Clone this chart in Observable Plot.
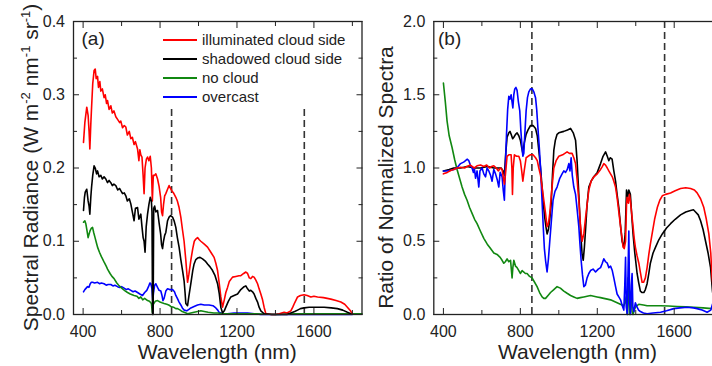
<!DOCTYPE html>
<html><head><meta charset="utf-8">
<script src="https://cdn.jsdelivr.net/npm/d3@7"></script>
<script src="https://cdn.jsdelivr.net/npm/@observablehq/plot@0.6"></script>
<style>
html,body{margin:0;padding:0;background:#fff;overflow:hidden;}
#wrap{position:relative;width:712px;height:366px;overflow:hidden;background:#fff;}
#wrap > svg{position:absolute;top:0;}
</style></head><body><div id="wrap"></div>
<script>
// ---------- tick labels / domains ----------
const xDomain = [350, 1850];
const xMajor = [400, 800, 1200, 1600];
const xMinor = [600, 1000, 1400, 1800];
const yDomainA = [0, 0.4];
const yMajorA = [0, 0.1, 0.2, 0.3, 0.4];
const yMinorA = [0.05, 0.15, 0.25, 0.35];
const yDomainB = [0, 2];
const yMajorB = [0, 0.5, 1, 1.5, 2];
const yMinorB = [0.25, 0.75, 1.25, 1.75];
const dashWl = [860, 1550];
const dashTopA = 0.285;
const seriesNames = ["illuminated cloud side", "shadowed cloud side", "no cloud", "overcast"];
const seriesColors = ["#ff0000", "#000000", "#118811", "#0000ff"];
const xTitle = "Wavelength (nm)";
const yTitleB = "Ratio of Normalized Spectra";

// ---------- panel (a): spectral radiance ----------
const aRedW = [402,409,419,426,431,435,440,444,450,457,463,468,475,480,487,492,500,509,515,522,527,535,544,552,560,570,580,590,596,605,614,622,630,640,648,656,665,672,683,690,695,700,706,712,717,722,729,735,742,749,755,760,765,772,778,787,795,803,808,813,818,824,830,839,847,855,861,870,882,890,899,908,917,925,934,943,950,960,970,978,986,995,1004,1012,1030,1047,1064,1081,1090,1099,1108,1116,1125,1134,1142,1151,1160,1177,1194,1210,1220,1235,1246,1255,1264,1272,1281,1289,1298,1307,1315,1324,1333,1341,1350,1380,1400,1420,1445,1460,1480,1490,1500,1515,1530,1549,1565,1584,1600,1619,1650,1688,1715,1740,1760,1774,1790,1800];
const aRedV = [0.235,0.262,0.283,0.272,0.25,0.226,0.26,0.283,0.315,0.333,0.335,0.322,0.325,0.31,0.318,0.305,0.308,0.296,0.3,0.288,0.292,0.28,0.285,0.275,0.278,0.27,0.266,0.262,0.264,0.255,0.258,0.256,0.245,0.25,0.24,0.242,0.232,0.236,0.226,0.21,0.225,0.218,0.215,0.19,0.165,0.2,0.212,0.215,0.21,0.216,0.2,0.155,0.19,0.19,0.192,0.185,0.175,0.16,0.14,0.135,0.15,0.162,0.165,0.171,0.176,0.172,0.169,0.166,0.16,0.155,0.146,0.133,0.115,0.1,0.074,0.044,0.055,0.074,0.09,0.1,0.103,0.105,0.102,0.1,0.096,0.092,0.085,0.078,0.07,0.06,0.042,0.024,0.01,0.02,0.03,0.037,0.045,0.051,0.052,0.053,0.053,0.056,0.058,0.056,0.05,0.049,0.052,0.051,0.047,0.042,0.035,0.028,0.02,0.01,0.001,0,0,0.001,0.003,0.002,0.005,0.01,0.016,0.024,0.026,0.027,0.026,0.024,0.025,0.024,0.023,0.021,0.019,0.017,0.014,0.01,0.005,0.001];

const aBlackW = [402,407,411,419,426,431,435,440,444,450,457,463,470,475,483,492,500,509,518,527,535,544,552,560,570,580,590,596,605,614,622,630,640,648,656,665,672,683,690,700,706,712,717,722,728,735,742,749,755,758,761,764,767,772,778,787,795,803,808,813,818,824,830,839,847,855,865,873,882,890,899,908,917,925,930,934,943,950,960,970,977,986,995,1008,1021,1035,1047,1060,1073,1086,1099,1108,1116,1125,1134,1142,1155,1168,1185,1203,1220,1237,1246,1255,1264,1272,1281,1289,1298,1307,1315,1324,1341,1380,1420,1460,1480,1500,1515,1530,1549,1575,1601,1630,1653,1690,1722,1750,1774,1792];
const aBlackV = [0.142,0.16,0.167,0.171,0.155,0.148,0.137,0.16,0.174,0.19,0.203,0.2,0.192,0.196,0.188,0.19,0.185,0.188,0.185,0.18,0.183,0.18,0.176,0.178,0.176,0.17,0.172,0.169,0.165,0.166,0.162,0.155,0.158,0.151,0.14,0.128,0.145,0.146,0.13,0.137,0.12,0.105,0.1,0.085,0.12,0.137,0.15,0.16,0.155,0.14,0,0,0.145,0.148,0.14,0.142,0.125,0.11,0.095,0.09,0.1,0.108,0.112,0.128,0.133,0.135,0.133,0.128,0.119,0.105,0.092,0.075,0.06,0.046,0.03,0.015,0.012,0.025,0.042,0.06,0.069,0.075,0.077,0.078,0.076,0.073,0.069,0.065,0.06,0.053,0.042,0.028,0.01,0.002,0.005,0.01,0.018,0.024,0.026,0.028,0.034,0.038,0.039,0.035,0.032,0.033,0.031,0.028,0.022,0.017,0.01,0.005,0.001,0,0,0,0.002,0.004,0.006,0.008,0.009,0.01,0.01,0.01,0.01,0.009,0.008,0.006,0.003,0.001];

const aGreenW = [402,409,414,420,426,431,437,443,449,455,462,470,475,485,495,501,510,520,527,540,550,561,575,585,596,610,620,631,645,655,665,680,690,700,710,720,735,745,755,760,765,775,787,800,810,821,835,845,856,870,882,891,905,915,925,935,943,960,977,995,1012,1030,1050,1080,1100,1130,1200,1300,1400,1500,1600,1700,1800,1850];
const aGreenV = [0.126,0.128,0.124,0.115,0.105,0.11,0.115,0.118,0.119,0.112,0.105,0.097,0.092,0.085,0.079,0.076,0.071,0.066,0.062,0.056,0.052,0.049,0.043,0.04,0.037,0.034,0.032,0.03,0.028,0.027,0.026,0.025,0.022,0.024,0.02,0.022,0.019,0.018,0.015,0.003,0.014,0.018,0.019,0.017,0.016,0.015,0.014,0.013,0.011,0.01,0.008,0.008,0.006,0.004,0.003,0.002,0.001,0.002,0.003,0.004,0.005,0.004,0.003,0.002,0.002,0.001,0.001,0.001,0,0.001,0.001,0.001,0.001,0.001];

const aBlueW = [402,409,416,423,430,437,443,449,460,475,485,495,509,520,530,544,555,565,579,590,600,613,625,635,648,660,670,683,695,709,720,731,740,747,752,758,762,766,772,778,787,795,804,810,815,821,830,839,850,865,875,882,890,899,908,916,925,939,950,960,977,995,1012,1030,1055,1075,1090,1100,1107,1125,1150,1185,1220,1255,1290,1324,1400,1500,1600,1700,1800];
const aBlueV = [0.031,0.034,0.036,0.038,0.037,0.042,0.044,0.044,0.043,0.044,0.042,0.043,0.042,0.04,0.041,0.041,0.039,0.04,0.038,0.037,0.038,0.036,0.034,0.035,0.033,0.031,0.032,0.03,0.028,0.026,0.03,0.033,0.038,0.043,0.042,0.035,0.02,0.03,0.04,0.042,0.037,0.033,0.032,0.026,0.019,0.022,0.032,0.035,0.034,0.034,0.031,0.026,0.022,0.017,0.013,0.009,0.006,0.005,0.007,0.009,0.011,0.013,0.014,0.013,0.013,0.012,0.009,0.006,0.003,0.001,0.001,0.002,0.002,0.002,0.001,0,0,0,0,0,0];

// ---------- panel (b): ratio of normalized spectra ----------
const bRedW = [400,420,440,454,470,490,510,523,540,560,575,593,610,625,640,650,662,675,685,697,705,712,717,722,731,740,752,756,759,763,769,780,792,800,807,813,820,830,840,853,866,879,888,896,905,913,922,931,939,946,953,962,974,986,1000,1020,1043,1055,1069,1078,1087,1095,1104,1112,1121,1130,1139,1147,1156,1168,1182,1200,1217,1226,1234,1243,1252,1260,1269,1278,1286,1295,1303,1312,1321,1329,1334,1340,1347,1352,1355,1362,1367,1372,1378,1386,1392,1398,1407,1416,1425,1433,1441,1450,1459,1468,1476,1485,1498,1512,1525,1538,1555,1581,1605,1633,1660,1685,1705,1719,1737,1754,1767,1780,1790,1797,1805];
const bRedV = [0.96,0.97,0.985,0.99,1.0,1.005,1.0,1.01,1.02,1.0,1.015,1.02,1.01,1.02,1.0,1.01,1.015,1.0,0.98,1.0,0.99,0.93,0.89,0.95,1.08,1.09,1.09,1.0,0.82,1.0,1.09,1.08,1.08,1.05,0.98,0.91,0.98,1.07,1.08,1.09,1.09,1.07,1.05,1.0,0.95,0.87,0.78,0.69,0.6,0.62,0.69,0.83,1.0,1.05,1.08,1.09,1.11,1.1,1.1,1.07,1.03,0.92,0.78,0.62,0.5,0.55,0.66,0.75,0.85,0.91,0.94,0.96,0.99,1.01,1.03,1.02,1.0,0.98,0.96,0.94,0.91,0.87,0.8,0.7,0.6,0.52,0.46,0.45,0.5,0.75,0.8,0.76,0.82,0.78,0.7,0.6,0.52,0.46,0.4,0.35,0.28,0.22,0.22,0.25,0.32,0.41,0.48,0.55,0.65,0.73,0.78,0.81,0.82,0.83,0.845,0.86,0.865,0.86,0.85,0.83,0.79,0.73,0.65,0.55,0.42,0.25,0.15];

const bBlackW = [400,430,454,490,523,560,593,630,662,690,700,710,717,724,731,740,746,752,760,766,775,783,792,800,807,813,820,830,840,853,866,879,888,896,905,913,920,927,933,939,946,953,960,967,974,982,991,1000,1026,1045,1061,1075,1087,1095,1104,1112,1121,1127,1133,1140,1147,1156,1168,1182,1200,1217,1230,1243,1252,1260,1268,1277,1286,1295,1303,1312,1320,1329,1338,1345,1352,1358,1364,1372,1379,1386,1395,1407,1415,1424,1433,1442,1450,1459,1468,1476,1490,1503,1520,1538,1560,1581,1605,1633,1660,1685,1700,1711,1725,1737,1750,1763,1776,1789,1799,1805];
const bBlackV = [0.98,0.99,1.0,1.0,1.01,1.0,1.0,1.01,1.0,1.0,1.0,0.98,0.95,1.1,1.21,1.24,1.25,1.23,1.2,1.21,1.23,1.24,1.22,1.19,1.14,1.1,1.17,1.23,1.26,1.29,1.29,1.27,1.22,1.12,1.0,0.87,0.75,0.66,0.6,0.55,0.58,0.65,0.75,0.95,1.12,1.19,1.23,1.24,1.25,1.26,1.27,1.24,1.19,1.05,0.82,0.6,0.41,0.37,0.46,0.6,0.75,0.87,0.91,0.94,0.97,1.03,1.08,1.11,1.08,1.05,1.07,1.06,0.98,0.91,0.82,0.73,0.62,0.5,0.46,0.55,0.85,0.8,0.85,0.82,0.68,0.55,0.42,0.28,0.22,0.16,0.15,0.15,0.17,0.21,0.28,0.35,0.42,0.46,0.51,0.55,0.59,0.62,0.65,0.68,0.7,0.71,0.715,0.7,0.68,0.64,0.58,0.5,0.42,0.32,0.16,0.1];

const bBlueW = [400,420,440,454,470,489,505,515,523,532,540,549,556,561,567,575,584,590,601,610,619,627,636,645,653,662,671,680,688,695,705,711,717,722,728,734,740,746,752,757,761,766,771,777,783,790,797,803,809,813,818,824,830,837,844,853,862,870,879,885,891,898,905,912,919,925,931,939,946,953,962,970,980,991,1005,1017,1026,1035,1044,1052,1058,1064,1070,1078,1087,1095,1104,1110,1116,1123,1130,1138,1147,1156,1165,1178,1191,1205,1217,1226,1234,1243,1252,1260,1269,1278,1286,1295,1303,1312,1321,1330,1338,1343,1347,1351,1356,1360,1364,1368,1373,1377,1381,1385,1390,1398,1407,1415,1424,1440,1459,1490,1529,1560,1598,1630,1667,1700,1719,1745,1771,1790,1799,1805];
const bBlueV = [0.98,0.98,0.985,0.99,1.0,1.03,1.04,1.05,1.06,1.05,1.02,1.0,0.97,1.0,0.93,0.98,0.87,0.98,1.0,0.96,0.94,1.0,0.98,0.95,0.91,0.99,0.96,0.92,0.87,0.97,0.94,0.85,0.78,1.0,1.23,1.4,1.49,1.47,1.5,1.45,1.41,1.5,1.54,1.55,1.53,1.45,1.39,1.25,1.14,1.08,1.1,1.25,1.39,1.48,1.52,1.54,1.54,1.52,1.48,1.4,1.28,1.15,1.0,0.8,0.6,0.45,0.37,0.29,0.38,0.5,0.65,0.78,0.84,0.87,0.93,0.96,0.98,0.97,0.99,1.03,0.98,1.07,0.95,0.87,0.82,0.72,0.6,0.48,0.37,0.27,0.19,0.2,0.25,0.28,0.3,0.31,0.29,0.31,0.32,0.35,0.38,0.36,0.35,0.32,0.33,0.3,0.25,0.19,0.14,0.12,0.1,0.06,0.03,0.2,0.39,0.05,0.0,0.3,0.57,0.1,0.0,0.2,0.28,0.05,0.02,0.08,0.05,0.03,0.02,0.01,0.005,0.01,0.015,0.025,0.04,0.045,0.05,0.045,0.04,0.03,0.015,0.03,0.07,0.09];

const bGreenW = [400,410,419,430,445,458,471,484,497,510,523,536,549,562,575,592,610,628,645,662,679,695,705,714,722,731,740,749,753,757,761,766,775,783,792,800,809,818,826,835,848,861,874,887,900,913,922,931,944,957,974,991,1008,1026,1043,1061,1078,1095,1112,1130,1147,1165,1182,1199,1217,1234,1252,1269,1286,1303,1320,1338,1344,1350,1355,1360,1364,1367,1372,1376,1381,1386,1392,1398,1407,1416,1440,1459,1490,1529,1570,1615,1660,1702,1750,1799,1805];
const bGreenV = [1.58,1.45,1.32,1.22,1.14,1.06,0.99,0.93,0.87,0.82,0.78,0.73,0.69,0.65,0.62,0.57,0.52,0.48,0.45,0.42,0.41,0.39,0.37,0.35,0.36,0.38,0.36,0.37,0.31,0.25,0.32,0.37,0.33,0.32,0.3,0.28,0.3,0.29,0.28,0.28,0.26,0.25,0.22,0.19,0.15,0.12,0.11,0.11,0.13,0.15,0.17,0.19,0.18,0.16,0.145,0.13,0.12,0.11,0.115,0.12,0.125,0.13,0.125,0.12,0.115,0.11,0.105,0.1,0.09,0.08,0.07,0.06,0.08,0.12,0.0,0.25,0.1,0.0,0.12,0.16,0.02,0.0,0.03,0.05,0.06,0.07,0.065,0.06,0.06,0.06,0.058,0.055,0.052,0.05,0.045,0.04,0.04];

// ---------- build ----------
const rows = (w, v) => w.map((x, i) => ({w: x, v: v[i]}));
const FONT = '"Liberation Sans", Arial, Helvetica, sans-serif';
const INK = "#222";
const common = {
  height: 366, marginTop: 21, marginBottom: 52,
  style: {fontFamily: FONT, fontSize: "16px", color: INK, background: "transparent"}
};
const blank = () => "";
function axes(yMajor, yMinor) {
  return [
    Plot.axisX({anchor: "bottom", ticks: xMajor, tickSize: -6, tickPadding: 17, tickFormat: d => String(d), label: null}),
    Plot.axisX({anchor: "bottom", ticks: xMinor, tickSize: -4, tickFormat: blank, label: null}),
    Plot.axisX({anchor: "top", ticks: xMajor, tickSize: -6, tickFormat: blank, label: null}),
    Plot.axisX({anchor: "top", ticks: xMinor, tickSize: -4, tickFormat: blank, label: null}),
    Plot.axisY({anchor: "left", ticks: yMajor, tickSize: -6, tickPadding: 14.5, tickFormat: d => d.toFixed(1), label: null}),
    Plot.axisY({anchor: "left", ticks: yMinor, tickSize: -4, tickFormat: blank, label: null}),
    Plot.axisY({anchor: "right", ticks: yMajor, tickSize: -6, tickFormat: blank, label: null}),
    Plot.axisY({anchor: "right", ticks: yMinor, tickSize: -4, tickFormat: blank, label: null})
  ];
}
const lw = 1.6;
const dashStyle = {stroke: "#333", strokeWidth: 1.6, strokeDasharray: "7,4"};

const plotA = Plot.plot({
  ...common, width: 364, marginLeft: 73, marginRight: 2.5,
  x: {domain: xDomain}, y: {domain: yDomainA},
  marks: [
    Plot.ruleX(dashWl, {y1: 0, y2: dashTopA, ...dashStyle}),
    Plot.line(rows(aBlueW, aBlueV), {x: "w", y: "v", stroke: seriesColors[3], strokeWidth: lw}),
    Plot.line(rows(aGreenW, aGreenV), {x: "w", y: "v", stroke: seriesColors[2], strokeWidth: lw}),
    Plot.line(rows(aRedW, aRedV), {x: "w", y: "v", stroke: seriesColors[0], strokeWidth: lw}),
    Plot.line(rows(aBlackW, aBlackV), {x: "w", y: "v", stroke: seriesColors[1], strokeWidth: lw}),
    Plot.frame({stroke: INK, strokeWidth: 1.3}),
    ...axes(yMajorA, yMinorA)
  ]
});

const plotB = Plot.plot({
  ...common, width: 380, marginLeft: 73.3, marginRight: 18.2,
  x: {domain: xDomain}, y: {domain: yDomainB},
  marks: [
    Plot.ruleX(dashWl, {...dashStyle}),
    Plot.line(rows(bGreenW, bGreenV), {x: "w", y: "v", stroke: seriesColors[2], strokeWidth: lw}),
    Plot.line(rows(bBlackW, bBlackV), {x: "w", y: "v", stroke: seriesColors[1], strokeWidth: lw}),
    Plot.line(rows(bBlueW, bBlueV), {x: "w", y: "v", stroke: seriesColors[3], strokeWidth: lw}),
    Plot.line(rows(bRedW, bRedV), {x: "w", y: "v", stroke: seriesColors[0], strokeWidth: lw}),
    Plot.frame({stroke: INK, strokeWidth: 1.3}),
    ...axes(yMajorB, yMinorB)
  ]
});

const wrap = document.getElementById("wrap");
plotB.style.left = "360px";
plotA.style.left = "0px";
wrap.appendChild(plotB);
wrap.appendChild(plotA);

// ---------- text overlay: titles, panel letters, legend ----------
const ov = d3.select(wrap).append("svg")
  .attr("width", 712).attr("height", 366)
  .style("left", "0px").style("pointer-events", "none")
  .style("font-family", FONT).style("fill", INK);

// x titles
ov.append("text").attr("x", 217.3).attr("y", 359).attr("text-anchor", "middle").style("font-size", "21px").text(xTitle);
ov.append("text").attr("x", 577.5).attr("y", 359).attr("text-anchor", "middle").style("font-size", "21px").text(xTitle);

// y title (a) with superscripts
const ya = ov.append("text").attr("transform", "translate(38,167.5) rotate(-90)")
  .attr("text-anchor", "middle").style("font-size", "21px");
const yParts = [["Spectral Radiance (W m", false], ["-2", true], [" nm", false], ["-1", true], [" sr", false], ["-1", true], [")", false]];
let up = false;
yParts.forEach(([t, sup]) => {
  const s = ya.append("tspan").text(t);
  if (sup && !up) { s.attr("dy", -8).style("font-size", "13px"); up = true; }
  else if (sup) { s.style("font-size", "13px"); }
  else if (up) { s.attr("dy", 8); up = false; }
});
// y title (b)
ov.append("text").attr("transform", "translate(393,177.5) rotate(-90)")
  .attr("text-anchor", "middle").style("font-size", "21px").text(yTitleB);

// panel letters
ov.append("text").attr("x", 81.5).attr("y", 45).style("font-size", "19px").text("(a)");
ov.append("text").attr("x", 438).attr("y", 45).style("font-size", "19px").text("(b)");

// legend
const legY = [40, 59, 78, 97];
seriesNames.forEach((name, i) => {
  ov.append("line").attr("x1", 163).attr("x2", 197).attr("y1", legY[i]).attr("y2", legY[i])
    .attr("stroke", seriesColors[i]).attr("stroke-width", 1.8);
  ov.append("text").attr("x", 202).attr("y", legY[i] + 5.3).style("font-size", "15px").text(name);
});
</script>
</body></html>
